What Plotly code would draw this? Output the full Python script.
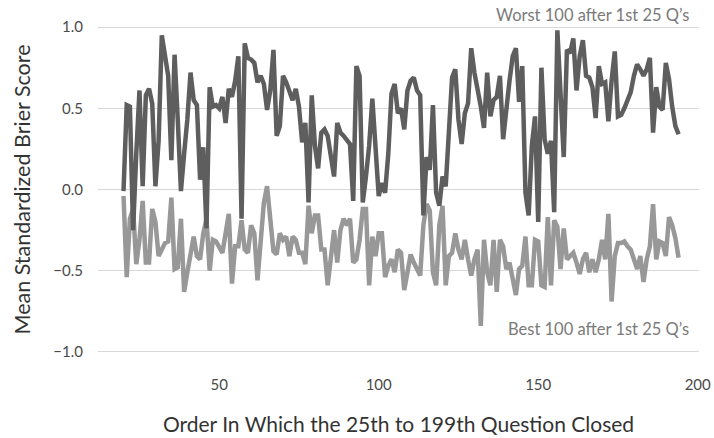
import plotly.graph_objects as go

# Question order (x)
order = list(range(20, 195))

# Worst 100 after 1st 25 Q's (dark line)
worst = [
    -0.01, 0.52, 0.51, -0.25, 0.22, 0.61, 0.02, 0.58, 0.62, 0.53,   # 20-29
    0.02, 0.30, 0.95, 0.82, 0.70, 0.18, 0.83, 0.43, -0.01, 0.22,    # 30-39
    0.43, 0.72, 0.55, 0.52, 0.06, 0.26, -0.24, 0.63, 0.51, 0.52,    # 40-49
    0.50, 0.57, 0.41, 0.62, 0.57, 0.67, 0.82, -0.18, 0.90, 0.81,    # 50-59
    0.80, 0.78, 0.66, 0.70, 0.65, 0.49, 0.61, 0.86, 0.33, 0.39,     # 60-69
    0.70, 0.66, 0.61, 0.55, 0.62, 0.51, 0.29, 0.41, -0.08, 0.58,    # 70-79
    0.27, 0.13, 0.35, 0.37, 0.33, 0.22, 0.08, 0.41, 0.35, 0.33,     # 80-89
    0.30, 0.28, -0.07, 0.76, 0.70, -0.08, 0.08, 0.27, 0.56, 0.27,   # 90-99
    -0.04, 0.04, -0.02, 0.22, 0.59, 0.65, 0.47, 0.50, 0.37, 0.61,   # 100-109
    0.67, 0.69, 0.61, 0.58, -0.16, 0.20, 0.12, 0.52, -0.02, -0.10,  # 110-119
    0.08, 0.02, 0.39, 0.69, 0.74, 0.43, 0.28, 0.47, 0.53, 0.87,     # 120-129
    0.72, 0.62, 0.51, 0.38, 0.72, 0.45, 0.55, 0.57, 0.70, 0.31,     # 130-139
    0.51, 0.67, 0.82, 0.87, 0.54, 0.76, -0.02, -0.16, 0.27, 0.45,   # 140-149
    -0.20, 0.75, 0.31, 0.22, 0.30, -0.14, 0.98, 0.63, 0.20, 0.86,   # 150-159
    0.84, 0.93, 0.61, 0.82, 0.92, 0.70, 0.69, 0.63, 0.44, 0.76,     # 160-169
    0.65, 0.66, 0.42, 0.67, 0.85, 0.45, 0.46, 0.50, 0.55, 0.60,     # 170-179
    0.70, 0.77, 0.74, 0.70, 0.74, 0.81, 0.35, 0.63, 0.51, 0.49,     # 180-189
    0.78, 0.68, 0.51, 0.39, 0.34,                                   # 190-194
]

# Best 100 after 1st 25 Q's (light line)
best = [
    -0.04, -0.54, -0.18, -0.12, -0.46, -0.31, -0.07, -0.45, -0.45, -0.12,  # 20-29
    -0.20, -0.41, -0.37, -0.33, -0.32, -0.05, -0.49, -0.48, -0.18, -0.63,  # 30-39
    -0.51, -0.39, -0.29, -0.41, -0.43, -0.27, -0.18, -0.50, -0.31, -0.32,  # 40-49
    -0.35, -0.39, -0.27, -0.15, -0.58, -0.35, -0.35, -0.19, -0.37, -0.39,  # 50-59
    -0.22, -0.27, -0.56, -0.27, -0.08, 0.02, -0.22, -0.38, -0.40, -0.27,   # 60-69
    -0.31, -0.29, -0.41, -0.29, -0.31, -0.39, -0.39, -0.46, -0.10, -0.27,  # 70-79
    -0.16, -0.16, -0.37, -0.37, -0.59, -0.39, -0.25, -0.45, -0.25, -0.18,  # 80-89
    -0.22, -0.18, -0.45, -0.43, -0.31, -0.12, -0.12, -0.59, -0.29, -0.41,  # 90-99
    -0.27, -0.27, -0.54, -0.47, -0.43, -0.51, -0.37, -0.39, -0.62, -0.51,  # 100-109
    -0.40, -0.45, -0.49, -0.53, -0.22, -0.09, -0.13, -0.51, -0.59, -0.22,  # 110-119
    -0.10, -0.59, -0.41, -0.39, -0.27, -0.37, -0.43, -0.31, -0.43, -0.53,  # 120-129
    -0.43, -0.37, -0.84, -0.31, -0.51, -0.59, -0.31, -0.63, -0.31, -0.35,  # 130-139
    -0.49, -0.45, -0.55, -0.65, -0.49, -0.47, -0.29, -0.59, -0.59, -0.31,  # 140-149
    -0.32, -0.59, -0.60, -0.17, -0.59, -0.19, -0.23, -0.49, -0.24, -0.43,  # 150-159
    -0.41, -0.39, -0.45, -0.52, -0.43, -0.39, -0.51, -0.43, -0.51, -0.43,  # 160-169
    -0.31, -0.43, -0.15, -0.69, -0.41, -0.33, -0.33, -0.32, -0.35, -0.37,  # 170-179
    -0.43, -0.49, -0.41, -0.57, -0.43, -0.35, -0.09, -0.43, -0.32, -0.33,  # 180-189
    -0.41, -0.17, -0.22, -0.30, -0.42,                                     # 190-194
]

y_ticks = [-1.0, -0.5, 0.0, 0.5, 1.0]
x_ticks = [50, 100, 150, 200]

FONT = "Lato, 'Noto Sans', sans-serif"

fig = go.Figure()
fig.add_trace(go.Scatter(x=order, y=best, mode="lines",
                         line=dict(color="#989898", width=4.5),
                         name="Best 100 after 1st 25 Q’s", showlegend=False))
fig.add_trace(go.Scatter(x=order, y=worst, mode="lines",
                         line=dict(color="#5e5e5e", width=4.5),
                         name="Worst 100 after 1st 25 Q’s", showlegend=False))

fig.add_annotation(x=1, xref="paper", xanchor="right", xshift=-8, y=1.0, yref="y",
                   yanchor="bottom", text="Worst 100 after 1st 25 Q’s", showarrow=False,
                   font=dict(family=FONT, size=16.5, color="#7a7a7a"))
fig.add_annotation(x=1, xref="paper", xanchor="right", xshift=-8, y=-0.86, yref="y",
                   yanchor="middle", text="Best 100 after 1st 25 Q’s", showarrow=False,
                   font=dict(family=FONT, size=16.5, color="#7a7a7a"))

fig.update_layout(
    width=714, height=438,
    margin=dict(l=98, r=15, t=19, b=78, autoexpand=False),
    plot_bgcolor="white", paper_bgcolor="white",
    font=dict(family=FONT, color="#444"),
    xaxis=dict(range=[12, 200.4], tickvals=x_ticks, showgrid=False, zeroline=False,
               showline=False, ticks="", automargin=False,
               tickfont=dict(size=15, color="#4a4a4a"),
               ticklabelstandoff=14,
               title=dict(text="Order In Which the 25th to 199th Question Closed",
                          font=dict(size=21, color="#333"), standoff=25)),
    yaxis=dict(range=[-1.05, 1.05], tickvals=y_ticks, tickformat=".1f",
               showgrid=True, gridcolor="#d8d8d8", gridwidth=1.2,
               zeroline=False, showline=False, ticks="", automargin=False,
               tickfont=dict(size=15, color="#4a4a4a"), ticklabelstandoff=14,
               title=dict(text="Mean Standardized Brier Score",
                          font=dict(size=21.5, color="#333"), standoff=16)),
)

fig.write_html("out.html", config={"displayModeBar": False},
               post_script="document.body.style.margin='0';document.body.style.padding='0';")
